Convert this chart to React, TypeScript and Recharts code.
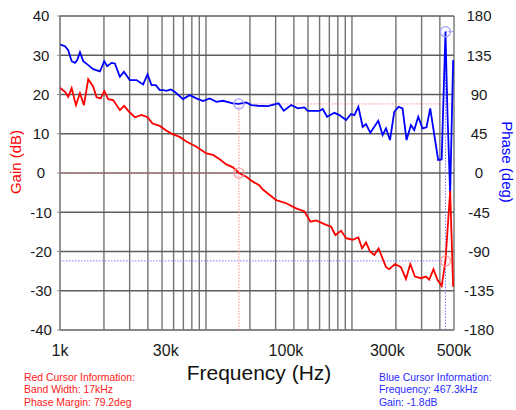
import React from 'react';
import {
  LineChart,
  Line,
  XAxis,
  YAxis,
  CartesianGrid,
  ReferenceLine,
  ReferenceDot,
} from 'recharts';

// ---------- data ----------
const gainFreq = [
  1000, 1082, 1139, 1202, 1286, 1370, 1459, 1561, 1689, 1781, 1898, 2009, 2139, 2313, 2571, 2751, 2976,
  3256, 3617, 3977, 4302, 4826, 5303, 5892, 6607, 7345, 8597, 10060, 11160, 12410, 13790, 15300, 16810,
  18880, 20960, 23280, 24520, 30280, 35430, 41490, 47270, 51940, 56840, 66530, 71970, 77010, 84250, 91150,
  101100, 110600, 117200, 124900, 132900, 142300, 152200, 171100, 180200, 197100, 216600, 234400, 250800,
  270000, 296800, 320900, 338100, 361700, 385300, 411600, 437000, 470600, 493300,
];
const gainDb = [
  21.7, 20.7, 19.4, 21.6, 17.3, 20.3, 17.3, 23.9, 22.0, 19.3, 19.0, 20.9, 18.8, 18.6, 16.0, 17.1, 15.6,
  14.2, 14.8, 14.2, 12.6, 12.0, 10.9, 9.9, 9.2, 8.0, 6.7, 5.0, 4.6, 3.5, 2.2, 1.45, 0,
  -0.94, -2.2, -3.2, -4.2, -6.9, -7.7, -9.0, -9.8, -12.4, -12.1, -13.2, -13.7, -15.8, -14.7, -16.6,
  -17.0, -16.4, -19.2, -17.7, -20.0, -20.9, -19.2, -24.0, -24.5, -23.2, -24.0, -27.0, -23.2,
  -26.4, -26.8, -26.4, -27.2, -24.5, -27.2, -28.8, -22.4, -4.6, -29.0,
];

const phaseFreq = [
  1000, 1082, 1139, 1202, 1266, 1313, 1370, 1443, 1561, 1689, 1877, 2009, 2105, 2256, 2376, 2571, 2738,
  3009, 3344, 3710, 3977, 4235, 4532, 4826, 5139, 5362, 5737, 6109, 6962, 7739, 8597, 9539, 10600, 11780,
  13070, 15300, 16810, 18880, 20430, 22670, 26530, 31410, 34140, 38340, 42550, 47270, 49800, 59860, 63050,
  67570, 75800, 82020, 91150, 98580, 103800, 110600, 118400, 124900, 133600, 151500, 162200, 171100,
  182200, 194900, 208600, 222100, 236500, 253500, 267000, 284400, 304300, 324000, 343600, 389500, 411600,
  437000, 451000, 470600, 493300,
];
const phaseDeg = [
  147.4, 145.4, 140.8, 128.2, 126.3, 129.4, 138.5, 128.2, 123.7, 119.1, 116.4, 128.2, 122.5, 126.3, 125.6,
  110.3, 116.0, 106.5, 106.5, 101.6, 113.0, 100.8, 100.8, 95.0, 95.0, 94.2, 95.8, 93.1, 84.7, 89.3, 85.5,
  82.4, 85.5, 81.6, 82.8, 79.8, 79.2, 80.9, 77.9, 77.1, 76.7, 79.8, 71.3, 77.9, 74.1, 75.2, 71.3, 71.3,
  73.3, 64.5, 69.0, 66.4, 60.7, 67.6, 66.4, 75.9, 53.0, 56.1, 46.1, 59.9, 43.5, 51.2, 37.8, 70.2, 75.9,
  74.1, 37.8, 55.0, 49.2, 64.5, 51.2, 52.3, 74.1, 14.9, 15.5, 162, 68.7, -23.2, 129.4,
];

// grid frequencies (vertical gridlines)
const gridFreqs = [
  1000, 2000, 3000, 4000, 5000, 6000, 7000, 8000, 9000,
  10000, 20000, 30000, 40000, 50000, 60000, 70000, 80000, 90000,
  100000, 200000, 300000, 400000, 500000,
];
// tick labels as placed in the picture
const xLabelFreqs = [1000, 5300, 35300, 174600, 500000];
const xLabelTexts = ['1k', '30k', '100k', '300k', '500k'];

const gainTicks = [-40, -30, -20, -10, 0, 10, 20, 30, 40];
const phaseTicks = [-180, -135, -90, -45, 0, 45, 90, 135, 180];

const redCursor = { freq: 16810, gain: 0, phase: 79.2 };
const blueCursor = { freq: 437000, gain: -22.4, phase: 162 };

const redInfo = ['Red Cursor Information:', 'Band Width: 17kHz', 'Phase Margin: 79.2deg'];
const blueInfo = ['Blue Cursor Information:', 'Frequency: 467.3kHz', 'Gain: -1.8dB'];

const gainData = gainFreq.map((f, i) => ({ f, g: gainDb[i] }));
const phaseData = phaseFreq.map((f, i) => ({ f, p: phaseDeg[i] }));

const FONT = '"Liberation Sans", Arial, sans-serif';
const RED = '#ff0000';
const BLUE = '#0000ff';

const LeftTick = (props: any) => (
  <text x={41} y={props.y} dy={5.3} textAnchor="middle" fontSize={15} fill="#1a1a1a" fontFamily={FONT}>
    {props.payload.value}
  </text>
);
const RightTick = (props: any) => (
  <text x={479} y={props.y} dy={5.3} textAnchor="middle" fontSize={15} fill="#1a1a1a" fontFamily={FONT}>
    {props.payload.value}
  </text>
);
const BottomTick = (props: any) => {
  const idx = xLabelFreqs.indexOf(props.payload.value);
  return (
    <text x={props.x} y={330} dy={26} textAnchor="middle" fontSize={16} fill="#1a1a1a" fontFamily={FONT}>
      {idx >= 0 ? xLabelTexts[idx] : ''}
    </text>
  );
};

export default function App() {
  return (
    <div style={{ position: 'absolute', left: 0, top: 0, width: 516, height: 410, background: '#fff' }}>
      <LineChart width={516} height={410} margin={{ top: 16, right: 0, bottom: 50, left: 0 }}>
        <XAxis
          xAxisId="f"
          type="number"
          dataKey="f"
          scale="log"
          domain={[1000, 500000]}
          allowDataOverflow
          ticks={xLabelFreqs}
          interval={0}
          tick={<BottomTick />}
          tickLine={false}
          axisLine={{ stroke: '#888' }}
          height={30}
        />
        <YAxis
          yAxisId="gain"
          orientation="left"
          domain={[-40, 40]}
          ticks={gainTicks}
          interval={0}
          width={60}
          allowDataOverflow
          axisLine={{ stroke: '#888' }}
          tickLine={{ stroke: '#888' }}
          tickSize={3}
          tick={<LeftTick />}
        />
        <YAxis
          yAxisId="phase"
          orientation="right"
          domain={[-180, 180]}
          ticks={phaseTicks}
          interval={0}
          width={62}
          allowDataOverflow
          axisLine={false}
          tickLine={false}
          tick={<RightTick />}
        />
        <CartesianGrid
          xAxisId="f"
          yAxisId="gain"
          horizontal={false}
          verticalValues={gridFreqs}
          stroke="#747474"
          strokeWidth={1.4}
        />
        <CartesianGrid xAxisId="f" yAxisId="gain" vertical={false} stroke="#5e5e5e" strokeWidth={1.3} />

        {/* red cursor */}
        <ReferenceLine
          xAxisId="f"
          yAxisId="gain"
          segment={[{ x: 1000, y: redCursor.gain }, { x: redCursor.freq, y: redCursor.gain }]}
          stroke="#ff8a8a"
          strokeDasharray="1.5 1.5"
        />
        <ReferenceLine
          xAxisId="f"
          yAxisId="phase"
          segment={[{ x: redCursor.freq, y: redCursor.phase }, { x: 500000, y: redCursor.phase }]}
          stroke="#ff8a8a"
          strokeDasharray="1.5 1.5"
        />
        <ReferenceLine
          xAxisId="f"
          yAxisId="phase"
          segment={[{ x: redCursor.freq, y: -180 }, { x: redCursor.freq, y: redCursor.phase }]}
          stroke="#ff8a8a"
          strokeDasharray="1.5 1.5"
        />
        {/* blue cursor */}
        <ReferenceLine
          xAxisId="f"
          yAxisId="gain"
          segment={[{ x: 1000, y: blueCursor.gain }, { x: blueCursor.freq, y: blueCursor.gain }]}
          stroke="#7a7aff"
          strokeDasharray="1.5 1.5"
        />
        <ReferenceLine
          xAxisId="f"
          yAxisId="phase"
          segment={[{ x: blueCursor.freq, y: blueCursor.phase }, { x: 500000, y: blueCursor.phase }]}
          stroke="#7a7aff"
          strokeDasharray="1.5 1.5"
        />
        <ReferenceLine
          xAxisId="f"
          yAxisId="phase"
          segment={[{ x: blueCursor.freq, y: -180 }, { x: blueCursor.freq, y: blueCursor.phase }]}
          stroke="#7a7aff"
          strokeDasharray="1.5 1.5"
        />

        <Line
          xAxisId="f"
          yAxisId="phase"
          data={phaseData}
          dataKey="p"
          stroke={BLUE}
          strokeWidth={1.8}
          dot={false}
          isAnimationActive={false}
        />
        <Line
          xAxisId="f"
          yAxisId="gain"
          data={gainData}
          dataKey="g"
          stroke={RED}
          strokeWidth={1.8}
          dot={false}
          isAnimationActive={false}
        />

        <ReferenceDot xAxisId="f" yAxisId="gain" x={redCursor.freq} y={redCursor.gain} r={5} fill="none" stroke="#ff9a9a" strokeWidth={1.2} />
        <ReferenceDot xAxisId="f" yAxisId="phase" x={redCursor.freq} y={redCursor.phase} r={5} fill="none" stroke="#a0a0ff" strokeWidth={1.2} />
        <ReferenceDot xAxisId="f" yAxisId="gain" x={blueCursor.freq} y={blueCursor.gain} r={5} fill="none" stroke="#ff9a9a" strokeWidth={1.2} />
        <ReferenceDot xAxisId="f" yAxisId="phase" x={blueCursor.freq} y={blueCursor.phase} r={5} fill="none" stroke="#a0a0ff" strokeWidth={1.2} />
      </LineChart>

      <svg
        width={516}
        height={410}
        style={{ position: 'absolute', left: 0, top: 0, pointerEvents: 'none' }}
      >
        <text transform="translate(21,162) rotate(-90)" textAnchor="middle" fontSize={15} fill={RED} fontFamily={FONT}>
          Gain (dB)
        </text>
        <text transform="translate(502,162) rotate(90)" textAnchor="middle" fontSize={15} fill={BLUE} fontFamily={FONT}>
          Phase (deg)
        </text>
        <text x={259} y={380} textAnchor="middle" fontSize={21} fill="#111" fontFamily={FONT}>
          Frequency (Hz)
        </text>
        {redInfo.map((t, i) => (
          <text key={t} x={24} y={381 + i * 12.3} fontSize={10.4} fill="#ff2020" fontFamily={FONT}>
            {t}
          </text>
        ))}
        {blueInfo.map((t, i) => (
          <text key={t} x={379} y={381 + i * 12.3} fontSize={10.4} fill="#2a2aff" fontFamily={FONT}>
            {t}
          </text>
        ))}
      </svg>
    </div>
  );
}
